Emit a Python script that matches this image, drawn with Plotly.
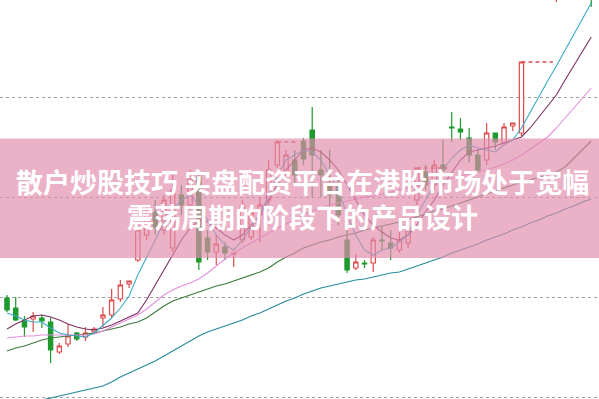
import plotly.graph_objects as go

# ---- candle data (index, open, high, low, close) ----
idx = list(range(68))
opens = [10.99,10.89,10.76,10.78,10.79,10.75,10.45,10.53,10.64,10.60,10.65,10.79,10.82,10.98,11.13,11.37,
         11.62,11.85,11.67,11.49,12.02,11.92,12.20,11.59,11.45,11.50,11.43,11.57,11.60,11.82,11.97,12.32,
         12.22,12.37,12.56,12.67,12.27,12.12,12.12,11.57,11.29,11.34,11.34,11.57,11.54,11.47,11.54,11.97,
         12.25,12.12,12.32,12.70,12.68,12.59,12.42,12.37,12.64,12.54,12.71,12.64,14.30,14.45,14.55,14.10,
         14.60,14.70,14.85,14.40]
highs = [11.02,11.00,10.81,10.85,10.82,10.79,10.54,10.73,10.65,10.70,10.70,10.90,11.08,11.17,11.16,11.72,
         11.92,11.97,12.02,12.22,12.12,12.27,12.24,11.67,11.62,11.55,11.44,11.97,11.87,12.00,12.37,12.57,
         12.47,12.47,12.59,12.90,12.47,12.47,12.22,11.67,11.43,11.37,11.60,11.70,11.67,11.65,11.72,12.29,
         12.32,12.37,12.57,12.85,12.79,12.69,12.47,12.74,12.64,12.74,12.74,13.35,14.60,14.70,14.80,14.70,
         14.90,15.00,15.10,14.95]
lows = [10.85,10.76,10.60,10.65,10.69,10.34,10.43,10.50,10.56,10.56,10.63,10.70,10.79,10.95,11.09,11.35,
        11.57,11.62,11.62,11.45,11.82,11.87,11.27,11.37,11.32,11.37,11.30,11.54,11.57,11.55,11.92,12.29,
        12.17,12.12,12.32,12.00,12.00,11.90,11.72,11.24,11.27,11.29,11.25,11.47,11.37,11.44,11.49,11.92,
        12.07,12.07,12.22,12.55,12.57,12.34,12.24,12.32,12.47,12.52,12.66,12.61,14.05,14.20,14.30,13.95,
        14.30,14.40,14.50,13.90]
closes = [10.87,10.77,10.70,10.81,10.76,10.47,10.51,10.61,10.58,10.64,10.68,10.82,10.97,11.12,11.16,11.67,
          11.82,11.69,11.97,12.07,11.92,12.19,11.35,11.45,11.53,11.44,11.44,11.92,11.84,11.92,12.27,12.55,
          12.42,12.22,12.38,12.42,12.22,12.02,11.82,11.27,11.35,11.33,11.57,11.56,11.49,11.57,11.67,12.29,
          12.12,12.32,12.27,12.69,12.65,12.42,12.27,12.64,12.55,12.70,12.74,13.35,14.55,14.65,14.75,14.55,
          14.80,14.95,15.00,14.10]

# ---- moving averages ----
ma5 = [10.84,10.81,10.77,10.75,10.75,10.69,10.64,10.62,10.61,10.60,10.64,10.72,10.79,10.89,11.01,11.22,
       11.39,11.57,11.75,11.87,11.97,12.02,11.92,11.77,11.62,11.52,11.47,11.57,11.69,11.82,12.02,12.22,
       12.37,12.42,12.47,12.45,12.37,12.22,12.07,11.82,11.62,11.47,11.42,11.47,11.49,11.55,11.62,11.82,
       11.97,12.12,12.27,12.39,12.47,12.52,12.49,12.47,12.45,12.52,12.57,12.69,12.85,13.00,13.16,13.31,
       13.47,13.62,13.78,13.94]
ma10 = [10.68,10.73,10.77,10.81,10.82,10.80,10.77,10.73,10.70,10.68,10.67,10.69,10.72,10.76,10.80,10.84,
        10.97,11.12,11.27,11.42,11.57,11.69,11.77,11.75,11.69,11.62,11.57,11.62,11.72,11.82,11.97,12.12,
        12.27,12.37,12.47,12.49,12.45,12.37,12.27,12.12,11.97,11.82,11.72,11.65,11.59,11.57,11.62,11.72,
        11.85,11.97,12.12,12.25,12.37,12.45,12.47,12.49,12.51,12.54,12.57,12.60,12.69,12.80,12.91,13.02,
        13.17,13.31,13.46,13.60]
ma20 = [10.59,10.60,10.61,10.61,10.62,10.62,10.62,10.62,10.62,10.62,10.63,10.66,10.70,10.74,10.78,10.82,
        10.88,10.95,11.02,11.07,11.11,11.14,11.18,11.24,11.31,11.38,11.44,11.49,11.54,11.59,11.64,11.69,
        11.73,11.77,11.82,11.86,11.89,11.92,11.94,11.96,11.98,12.00,12.01,12.03,12.05,12.07,12.09,12.11,
        12.13,12.15,12.17,12.19,12.21,12.23,12.25,12.27,12.30,12.33,12.37,12.42,12.48,12.54,12.60,12.69,
        12.79,12.89,12.99,13.09]
ma30 = [10.46,10.49,10.51,10.54,10.57,10.59,10.60,10.61,10.62,10.63,10.64,10.66,10.68,10.70,10.73,10.75,
        10.79,10.85,10.91,10.96,10.99,11.02,11.05,11.08,11.11,11.13,11.16,11.19,11.22,11.25,11.29,11.35,
        11.40,11.44,11.49,11.52,11.55,11.57,11.60,11.62,11.64,11.67,11.69,11.71,11.73,11.75,11.78,11.80,
        11.83,11.86,11.88,11.91,11.94,11.97,12.00,12.03,12.06,12.09,12.12,12.15,12.17,12.20,12.22,12.25,
        12.30,12.39,12.47,12.56]
ma60 = [9.87,9.89,9.91,9.94,9.97,9.99,10.01,10.03,10.05,10.07,10.09,10.11,10.15,10.20,10.24,10.28,
        10.32,10.36,10.41,10.46,10.51,10.56,10.61,10.65,10.68,10.71,10.74,10.77,10.81,10.84,10.88,10.92,
        10.96,10.99,11.03,11.06,11.09,11.11,11.13,11.15,11.17,11.18,11.20,11.22,11.24,11.25,11.28,11.31,
        11.34,11.37,11.40,11.44,11.47,11.50,11.53,11.57,11.60,11.63,11.67,11.70,11.74,11.77,11.81,11.84,
        11.88,11.91,11.95,11.98]

# ---- gap (dashed) lines: start index, end index, price ----
gap_start = [31, 47, 59]
gap_end = [33.2, 50.5, 62.6]
gap_price = [12.55, 12.29, 13.35]

title_text = "散户炒股技巧 实盘配资平台在港股市场处于宽幅<br>震荡周期的阶段下的产品设计"

RED = "#dd4b4b"
GREEN = "#1d9a2c"

fig = go.Figure()

# MA lines
for vals, col in [(ma60, "#23899a"), (ma30, "#3c7a3c"), (ma20, "#e58ee0"),
                  (ma10, "#7d2f62"), (ma5, "#3aaac4")]:
    fig.add_trace(go.Scatter(x=idx, y=vals, mode="lines",
                             line=dict(color=col, width=1.1), hoverinfo="skip"))

# gap dashed lines
gx, gy = [], []
for s, e, p in zip(gap_start, gap_end, gap_price):
    gx += [s, e, None]
    gy += [p, p, None]
fig.add_trace(go.Scatter(x=gx, y=gy, mode="lines",
                         line=dict(color=RED, width=1.5, dash="4px,3px"), hoverinfo="skip"))

fig.add_trace(go.Candlestick(
    x=idx, open=opens, high=highs, low=lows, close=closes,
    increasing=dict(line=dict(color=RED, width=1.2), fillcolor="white"),
    decreasing=dict(line=dict(color=GREEN, width=1.2), fillcolor=GREEN),
    whiskerwidth=0, hoverinfo="skip"))

fig.add_shape(type="rect", xref="paper", yref="paper", x0=0, x1=1,
              y0=1 - 258 / 399, y1=1 - 138.5 / 399,
              fillcolor="rgba(224,140,172,0.68)", line=dict(width=0), layer="above")

fig.add_annotation(xref="paper", yref="paper", x=0.505, y=1 - 198.5 / 399,
                   text="<b>" + title_text + "</b>", showarrow=False,
                   font=dict(family="Noto Sans CJK SC", size=27, color="white"),
                   align="center", xanchor="center", yanchor="middle")

fig.update_layout(
    width=599, height=399, margin=dict(l=0, r=0, t=0, b=0),
    paper_bgcolor="white", plot_bgcolor="white", showlegend=False,
    xaxis=dict(range=[-0.803, 67.89], showgrid=False, zeroline=False,
               showticklabels=False, rangeslider=dict(visible=False), fixedrange=True),
    yaxis=dict(range=[9.98, 13.97], tickvals=[10, 11, 12, 13], showgrid=True,
               gridcolor="#a0a0a0", griddash="dot", gridwidth=1, zeroline=False,
               showticklabels=False, fixedrange=True),
)

fig.write_html("out.html")
